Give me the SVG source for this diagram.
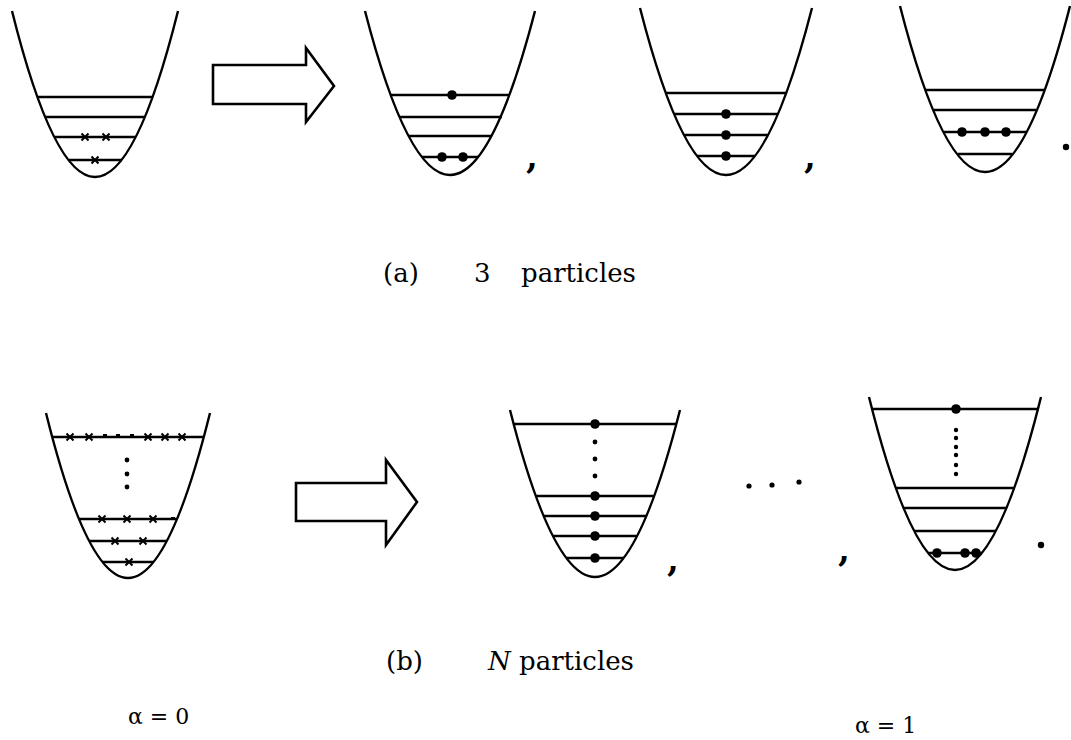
<svg xmlns="http://www.w3.org/2000/svg" width="1071" height="740" viewBox="0 0 1071 740">
<defs>
<style>
.w{fill:none;stroke:#000;stroke-width:2.4}
.l{stroke:#000;stroke-width:2.6}
.x{stroke:#000;stroke-width:2;fill:none}
.d{fill:#000}
.t{font-family:"DejaVu Serif","Liberation Serif",serif;font-size:26px;fill:#000}
.s{font-family:"DejaVu Serif","Liberation Serif",serif;font-size:22px;fill:#000}
.p{font-family:"DejaVu Serif","Liberation Serif",serif;font-size:34px;font-weight:bold;fill:#000}
.ar{fill:#fff;stroke:#000;stroke-width:2.6;stroke-linejoin:miter}
</style>
<g id="cross"><path class="x" d="M-3.5,-3.5L3.5,3.5M-3.5,3.5L3.5,-3.5"/></g>
</defs>
<rect width="1071" height="740" fill="#fff"/>

<g id="well1">
<path class="w" d="M12,11Q95,343 178,11"/>
<line class="l" x1="37" y1="97" x2="153" y2="97"/>
<line class="l" x1="45" y1="117" x2="145" y2="117"/>
<line class="l" x1="54" y1="137" x2="136" y2="137"/>
<line class="l" x1="69" y1="160" x2="122" y2="160"/>
<use href="#cross" x="85" y="137"/><use href="#cross" x="106" y="137"/>
<use href="#cross" x="95" y="160"/>
</g>

<g id="connectors">
<path id="arrow-a" class="ar" d="M213,65L306,65L306,48L334,86L306,122L306,104L213,104Z"/>
<path id="arrow-b" class="ar" d="M296,483L386,483L386,460L417,502L386,545L386,521L296,521Z"/>
</g>

<g id="well2">
<path class="w" d="M365,11Q450,339 535,11"/>
<line class="l" x1="391" y1="95" x2="509" y2="95"/>
<line class="l" x1="400" y1="117" x2="502" y2="117"/>
<line class="l" x1="409" y1="136" x2="491" y2="136"/>
<line class="l" x1="422" y1="157" x2="478" y2="157"/>
<circle class="d" cx="452" cy="95" r="4.8"/>
<circle class="d" cx="442" cy="157" r="4.8"/><circle class="d" cx="463" cy="157" r="4.8"/>
<text class="p" x="526" y="168">,</text>
</g>

<g id="well3">
<path class="w" d="M640,8Q726,342 812,8"/>
<line class="l" x1="666" y1="93" x2="786" y2="93"/>
<line class="l" x1="674" y1="114" x2="778" y2="114"/>
<line class="l" x1="684" y1="135" x2="768" y2="135"/>
<line class="l" x1="697" y1="156" x2="755" y2="156"/>
<circle class="d" cx="726" cy="114" r="4.8"/>
<circle class="d" cx="726" cy="135" r="4.8"/>
<circle class="d" cx="726" cy="156" r="4.8"/>
<text class="p" x="804" y="168">,</text>
</g>

<g id="well4">
<path class="w" d="M900,6Q985,338 1070,6"/>
<line class="l" x1="925" y1="90" x2="1045" y2="90"/>
<line class="l" x1="934" y1="110" x2="1036" y2="110"/>
<line class="l" x1="944" y1="132" x2="1027" y2="132"/>
<line class="l" x1="958" y1="154" x2="1012" y2="154"/>
<circle class="d" cx="962" cy="132" r="4.8"/><circle class="d" cx="985" cy="132" r="4.8"/><circle class="d" cx="1006" cy="132" r="4.8"/>
<circle class="d" cx="1066" cy="147" r="3.2"/>
</g>

<g id="label-a">
<text class="t" x="383" y="282">(a)</text>
<text class="t" x="474" y="282">3</text>
<text class="t" x="521" y="282">particles</text>
</g>

<g id="well5">
<path class="w" d="M46,413Q128,743 210,413"/>
<line class="l" x1="52" y1="437" x2="204" y2="437"/>
<line class="l" x1="79" y1="519" x2="177" y2="519"/>
<line class="l" x1="89" y1="541" x2="167" y2="541"/>
<line class="l" x1="102" y1="562" x2="154" y2="562"/>
<use href="#cross" x="70" y="437"/><use href="#cross" x="89" y="437"/>
<path class="x" d="M103,435L107,435M116,435L120,435M130,435L134,435"/>
<use href="#cross" x="148" y="437"/><use href="#cross" x="165" y="437"/><use href="#cross" x="182" y="437"/>
<use href="#cross" x="102" y="519"/><use href="#cross" x="127" y="519"/><use href="#cross" x="153" y="519"/>
<path class="x" d="M171,518L175,518"/>
<use href="#cross" x="115" y="541"/><use href="#cross" x="143" y="541"/>
<use href="#cross" x="129" y="562"/>
<circle class="d" cx="127" cy="460" r="2.4"/><circle class="d" cx="127" cy="474" r="2.4"/><circle class="d" cx="127" cy="487" r="2.4"/>
</g>

<g id="well6">
<path class="w" d="M510,410Q595,744 680,410"/>
<line class="l" x1="514" y1="424" x2="676" y2="424"/>
<line class="l" x1="536" y1="496" x2="654" y2="496"/>
<line class="l" x1="544" y1="516" x2="646" y2="516"/>
<line class="l" x1="553" y1="536" x2="637" y2="536"/>
<line class="l" x1="566" y1="558" x2="624" y2="558"/>
<circle class="d" cx="595" cy="424" r="4.8"/>
<circle class="d" cx="595" cy="496" r="4.8"/>
<circle class="d" cx="595" cy="516" r="4.8"/>
<circle class="d" cx="595" cy="536" r="4.8"/>
<circle class="d" cx="595" cy="558" r="4.8"/>
<circle class="d" cx="595" cy="442" r="2.4"/><circle class="d" cx="595" cy="459" r="2.4"/><circle class="d" cx="595" cy="476" r="2.4"/>
<text class="p" x="667" y="571">,</text>
</g>

<g id="ellipsis">
<circle class="d" cx="749" cy="486" r="2.6"/><circle class="d" cx="772" cy="485" r="2.6"/><circle class="d" cx="799" cy="482" r="2.6"/>
<text class="p" x="838" y="561">,</text>
</g>

<g id="well7">
<path class="w" d="M869,397Q955,743 1041,397"/>
<line class="l" x1="872" y1="409" x2="1038" y2="409"/>
<line class="l" x1="896" y1="488" x2="1014" y2="488"/>
<line class="l" x1="904" y1="508" x2="1006" y2="508"/>
<line class="l" x1="914" y1="531" x2="996" y2="531"/>
<line class="l" x1="928" y1="553" x2="982" y2="553"/>
<circle class="d" cx="956" cy="409" r="4.8"/>
<circle class="d" cx="956" cy="430" r="2.2"/><circle class="d" cx="956" cy="438" r="2.2"/><circle class="d" cx="956" cy="447" r="2.2"/>
<circle class="d" cx="956" cy="455" r="2.2"/><circle class="d" cx="956" cy="465" r="2.2"/><circle class="d" cx="956" cy="474" r="2.2"/>
<circle class="d" cx="937" cy="553" r="4.8"/><circle class="d" cx="965" cy="553" r="4.8"/><circle class="d" cx="976" cy="553" r="4.8"/>
<circle class="d" cx="1041" cy="545" r="3.2"/>
</g>

<g id="label-b">
<text class="t" x="386" y="670">(b)</text>
<text class="t" x="488" y="670"><tspan font-style="italic">N</tspan> particles</text>
</g>

<g id="alpha">
<text class="s" x="128" y="724">α = 0</text>
<text class="s" x="855" y="733">α = 1</text>
</g>
</svg>
